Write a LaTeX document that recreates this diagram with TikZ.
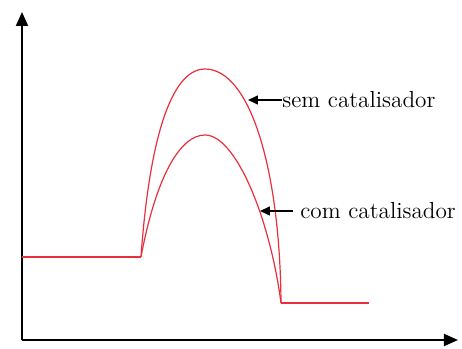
\documentclass[tikz,border=0pt]{standalone}
\usetikzlibrary{arrows.meta,positioning}
\definecolor{CurveRed}{HTML}{E8303C}

\begin{document}
\begin{tikzpicture}[x=0.5pt,y=0.5pt,
    axis/.style={line width=1pt,-{Triangle[length=7pt,width=6pt]}},
    path curve/.style={CurveRed,line width=0.6pt},
    note/.style={line width=0.8pt,-{Triangle[length=5pt,width=4.5pt]}},
    every node/.style={font=\fontsize{11.6}{14}\selectfont,inner sep=0pt,anchor=west}]
    \useasboundingbox (0,0) rectangle (462,349);
    \coordinate (origin) at (22,9);
    \coordinate (ytop) at (22,337);
    \coordinate (xend) at (458,9);
    \draw[axis] (origin)--(ytop);
    \draw[axis] (origin)--(xend);
    % energy levels and the two paths
    \coordinate (react) at (22,92);
    \coordinate (start) at (141,92);
    \coordinate (finish) at (281,46);
    \coordinate (prod) at (369,46);
    \draw[path curve] (react)--(start);
    \draw[path curve] (finish)--(prod);
    \draw[path curve] (start) .. controls (149,205) and (170,280) .. (205,280)
      .. controls (250,280) and (280,180) .. (finish);
    \draw[path curve] (start) .. controls (156,172) and (180,214) .. (205,214)
      .. controls (236,214) and (270,130) .. (finish);
    % labels
    \node (sem) at (282,249) {sem catalisador};
    \node (com) at (300,138) {com catalisador};
    \coordinate (semtip) at (248,249);
    \coordinate (comtip) at (260,138);
    \draw[note] (sem.west)--(semtip);
    \draw[note] ([xshift=-3.5pt]com.west)--(comtip);
  \end{tikzpicture}
\end{document}
